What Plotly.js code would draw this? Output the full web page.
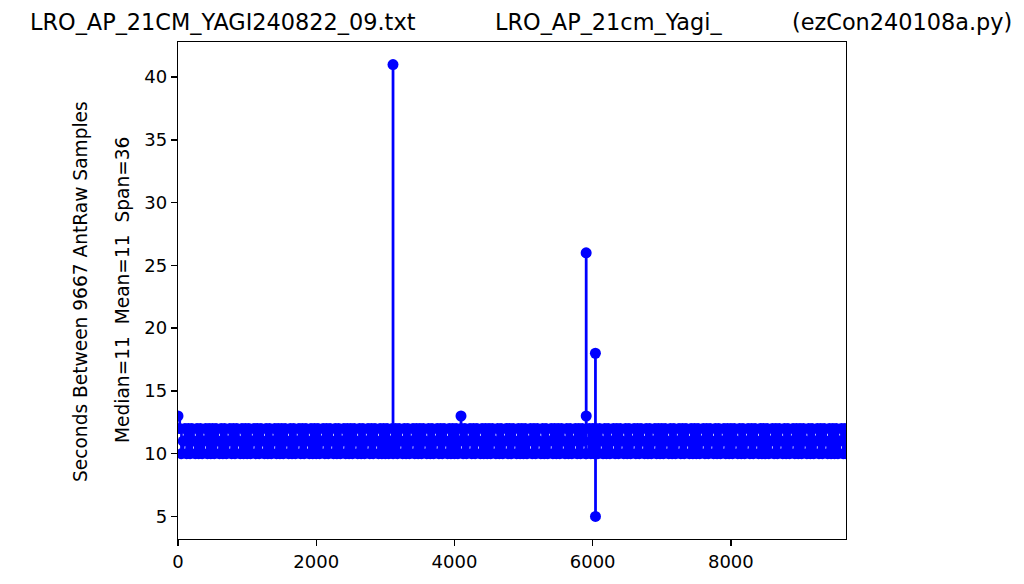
<!DOCTYPE html>
<html>
<head>
<meta charset="utf-8">
<script src="https://cdn.plot.ly/plotly-3.0.1.min.js"></script>
<style>html,body{margin:0;padding:0;background:#fff;}#chart{width:1024px;height:584px;}</style>
</head>
<body>
<div id="chart"></div>
<script>
// Sample index (x) and seconds between samples (y) (band thinned to every 25th sample)
const sampleIndex = [
  0,25,50,75,100,125,150,175,200,225,250,275,300,325,350,375,400,425,450,475,
  500,525,550,575,600,625,650,675,700,725,750,775,800,825,850,875,900,925,950,975,
  1000,1025,1050,1075,1100,1125,1150,1175,1200,1225,1250,1275,1300,1325,1350,1375,1400,1425,1450,1475,
  1500,1525,1550,1575,1600,1625,1650,1675,1700,1725,1750,1775,1800,1825,1850,1875,1900,1925,1950,1975,
  2000,2025,2050,2075,2100,2125,2150,2175,2200,2225,2250,2275,2300,2325,2350,2375,2400,2425,2450,2475,
  2500,2525,2550,2575,2600,2625,2650,2675,2700,2725,2750,2775,2800,2825,2850,2875,2900,2925,2950,2975,
  3000,3025,3050,3075,3100,3111,3112,3150,3175,3200,3225,3250,3275,3300,3325,3350,3375,3400,3425,3450,3475,
  3500,3525,3550,3575,3600,3625,3650,3675,3700,3725,3750,3775,3800,3825,3850,3875,3900,3925,3950,3975,
  4000,4025,4050,4075,4095,4096,4125,4150,4175,4200,4225,4250,4275,4300,4325,4350,4375,4400,4425,4450,4475,
  4500,4525,4550,4575,4600,4625,4650,4675,4700,4725,4750,4775,4800,4825,4850,4875,4900,4925,4950,4975,
  5000,5025,5050,5075,5100,5125,5150,5175,5200,5225,5250,5275,5300,5325,5350,5375,5400,5425,5450,5475,
  5500,5525,5550,5575,5600,5625,5650,5675,5700,5725,5750,5775,5800,5825,5850,5875,5900,5906,5907,5908,5950,5975,
  6000,6025,6040,6041,6042,6075,6100,6125,6150,6175,6200,6225,6250,6275,6300,6325,6350,6375,6400,6425,6450,6475,
  6500,6525,6550,6575,6600,6625,6650,6675,6700,6725,6750,6775,6800,6825,6850,6875,6900,6925,6950,6975,
  7000,7025,7050,7075,7100,7125,7150,7175,7200,7225,7250,7275,7300,7325,7350,7375,7400,7425,7450,7475,
  7500,7525,7550,7575,7600,7625,7650,7675,7700,7725,7750,7775,7800,7825,7850,7875,7900,7925,7950,7975,
  8000,8025,8050,8075,8100,8125,8150,8175,8200,8225,8250,8275,8300,8325,8350,8375,8400,8425,8450,8475,
  8500,8525,8550,8575,8600,8625,8650,8675,8700,8725,8750,8775,8800,8825,8850,8875,8900,8925,8950,8975,
  9000,9025,9050,9075,9100,9125,9150,9175,9200,9225,9250,9275,9300,9325,9350,9375,9400,9425,9450,9475,
  9500,9525,9550,9575,9600,9625,9650,9666
];
const secondsBetween = [
  13,12,10,11,12,10,12,10,12,11,10,12,10,12,10,11,12,10,12,10,
  12,10,12,11,10,12,10,12,10,11,12,10,12,10,12,11,10,12,10,12,
  10,12,10,11,12,10,12,10,12,11,10,12,10,12,10,11,12,10,12,10,
  12,10,12,11,10,12,10,12,10,11,12,10,12,10,12,11,10,12,10,12,
  10,12,10,11,12,10,12,10,12,11,10,12,10,12,10,11,12,10,12,10,
  12,10,12,11,10,12,10,12,10,11,12,10,12,10,12,11,10,12,10,12,
  10,12,10,11,12,41,10,12,10,12,11,10,12,10,12,10,11,12,10,12,10,
  12,10,12,11,10,12,10,12,10,11,12,10,12,10,12,11,10,12,10,12,
  10,12,10,11,13,12,10,12,10,11,12,10,12,10,12,11,10,12,10,12,10,
  12,10,12,11,10,12,10,12,10,11,12,10,12,10,12,11,10,12,10,12,
  10,12,10,11,12,10,12,10,12,11,10,12,10,12,10,11,12,10,12,10,
  12,10,12,11,10,12,10,12,10,11,12,10,12,10,12,11,10,26,13,10,12,10,
  12,10,18,5,12,10,12,11,10,12,10,12,10,11,12,10,12,10,12,11,10,12,
  10,12,10,11,12,10,12,10,12,11,10,12,10,12,10,11,12,10,12,10,
  12,10,12,11,10,12,10,12,10,11,12,10,12,10,12,11,10,12,10,12,
  10,12,10,11,12,10,12,10,12,11,10,12,10,12,10,11,12,10,12,10,
  12,10,12,11,10,12,10,12,10,11,12,10,12,10,12,11,10,12,10,12,
  10,12,10,11,12,10,12,10,12,11,10,12,10,12,10,11,12,10,12,10,
  12,10,12,11,10,12,10,12,10,11,12,10,12,10,12,11,10,12,10,12,
  10,12,10,11,12,10,12,10
];
const xTicks = [0, 2000, 4000, 6000, 8000];
const yTicks = [5, 10, 15, 20, 25, 30, 35, 40];
const titleParts = ["LRO_AP_21CM_YAGI240822_09.txt", "LRO_AP_21cm_Yagi_", "(ezCon240108a.py)"];
const yLabel1 = "Seconds Between 9667 AntRaw Samples";
const yLabel2 = "Median=11\u00a0\u00a0Mean=11\u00a0\u00a0Span=36";

const FONT = "DejaVu Sans";
const BLUE = "#0000ff";

const trace = {
  x: sampleIndex,
  y: secondsBetween,
  type: "scatter",
  mode: "lines+markers",
  line: {color: BLUE, width: 2.7, shape: "hv", simplify: false},
  marker: {color: BLUE, size: 11},
  hoverinfo: "none"
};

const W = 1024, H = 584, L = 178, R = 178, T = 42, B = 45;
const pw = W - L - R, ph = H - T - B;
const px = v => (v - L) / pw;
const py = v => (H - B - v) / ph;

const layout = {
  width: W, height: H,
  margin: {l: L, r: R, t: T, b: B, pad: 0},
  paper_bgcolor: "#fff", plot_bgcolor: "#fff",
  showlegend: false,
  font: {family: FONT, size: 18, color: "#000"},
  xaxis: {
    range: [0, 9666], tickvals: xTicks, ticktext: xTicks.map(String),
    showgrid: false, zeroline: false,
    showline: true, mirror: true, linecolor: "#000", linewidth: 1.3,
    ticks: "outside", ticklen: 6, tickwidth: 1.3, tickcolor: "#000",
    tickfont: {family: FONT, size: 18, color: "#000"}
  },
  yaxis: {
    range: [3.2, 42.8], tickvals: yTicks, ticktext: yTicks.map(String),
    showgrid: false, zeroline: false,
    showline: true, mirror: true, linecolor: "#000", linewidth: 1.3,
    ticks: "outside", ticklen: 6, tickwidth: 1.3, tickcolor: "#000",
    tickfont: {family: FONT, size: 18, color: "#000"}
  },
  annotations: [
    {text: titleParts[0], xref: "paper", yref: "paper", x: px(28), y: py(22), xanchor: "left", yanchor: "middle", showarrow: false, font: {family: FONT, size: 22.4, color: "#000"}},
    {text: titleParts[1], xref: "paper", yref: "paper", x: px(493), y: py(22), xanchor: "left", yanchor: "middle", showarrow: false, font: {family: FONT, size: 22.4, color: "#000"}},
    {text: titleParts[2], xref: "paper", yref: "paper", x: px(790), y: py(22), xanchor: "left", yanchor: "middle", showarrow: false, font: {family: FONT, size: 22.4, color: "#000"}},
    {text: yLabel1, xref: "paper", yref: "paper", x: px(80), y: py(292), xanchor: "center", yanchor: "middle", textangle: -90, showarrow: false, font: {family: FONT, size: 18.6, color: "#000"}},
    {text: yLabel2, xref: "paper", yref: "paper", x: px(122), y: py(290), xanchor: "center", yanchor: "middle", textangle: -90, showarrow: false, font: {family: FONT, size: 18.6, color: "#000"}}
  ]
};

Plotly.newPlot("chart", [trace], layout, {staticPlot: true, displayModeBar: false});
</script>
</body>
</html>
